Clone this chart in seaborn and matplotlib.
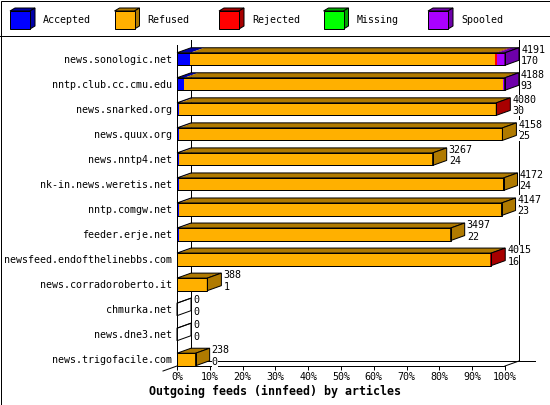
import numpy as np
import pandas as pd
import seaborn as sns
import matplotlib.pyplot as plt
from matplotlib.patches import Polygon, Rectangle
from matplotlib.lines import Line2D

# innfeed outgoing feeds, articles per peer
hosts = ["news.sonologic.net", "nntp.club.cc.cmu.edu", "news.snarked.org",
         "news.quux.org", "news.nntp4.net", "nk-in.news.weretis.net",
         "nntp.comgw.net", "feeder.erje.net", "newsfeed.endofthelinebbs.com",
         "news.corradoroberto.it", "chmurka.net", "news.dne3.net",
         "news.trigofacile.com"]
offered = [4191, 4188, 4080, 4158, 3267, 4172, 4147, 3497, 4015, 388, 0, 0, 238]
accepted = [170, 93, 30, 25, 24, 24, 23, 22, 16, 1, 0, 0, 0]
rejected = [25, 0, 10, 0, 0, 0, 0, 0, 15, 0, 0, 0, 0]
missing = [0, 0, 0, 0, 0, 0, 0, 0, 0, 0, 0, 0, 0]
spooled = [100, 20, 0, 0, 0, 0, 0, 0, 0, 0, 0, 0, 0]
refused = list(np.array(offered) - np.array(accepted) - np.array(rejected)
               - np.array(missing) - np.array(spooled))

segments = ["Accepted", "Refused", "Rejected", "Missing", "Spooled"]
front = {"Accepted": "#0000FF", "Refused": "#FFB000", "Rejected": "#FF0000",
         "Missing": "#00FF00", "Spooled": "#AA00FF"}
dark = {"Accepted": "#0000A8", "Refused": "#B07A00", "Rejected": "#A80000",
        "Missing": "#00A800", "Spooled": "#6E00AA"}

plt.rcParams['font.family'] = ['DejaVu Sans Mono']
FS = 7.2

df = pd.DataFrame({"host": hosts, "Accepted": accepted, "Refused": refused,
                   "Rejected": rejected, "Missing": missing, "Spooled": spooled})
scale = 100.0 / max(offered)
pct = df[segments] * scale
cum = pct.cumsum(axis=1)
for s in segments:
    df["cum_" + s] = cum[s]

W, H = 550, 405
fig = plt.figure(figsize=(W / 100, H / 100), dpi=100)
ax = fig.add_axes([177 / W, 1 - 366 / H, 328 / W, 321 / H])

# stacked front faces, widest first
for s in reversed(segments):
    sns.barplot(data=df, x="cum_" + s, y="host", order=hosts, orient="h",
                color=front[s], saturation=1, width=0.5, errorbar=None,
                linewidth=0, edgecolor="none", ax=ax, zorder=3)

ytop, ybot = -0.56, len(hosts) - 1 + 0.26
ax.set_xlim(0, 100)
ax.set_ylim(ybot, ytop)

# depth of the 3D effect in data units (14 px right, 5 px up)
DX = 14 / (328 / 100)
DY = 5 / (321 / (ybot - ytop))
lw = 0.72

# back walls and floor
kw = dict(color="black", lw=lw, clip_on=False, zorder=1)
ax.add_line(Line2D([DX, DX], [ytop - DY, ybot - DY], **kw))
ax.add_line(Line2D([100 + DX, 100 + DX], [ytop - DY, ybot - DY], **kw))
ax.add_line(Line2D([DX, 109], [ybot - DY, ybot - DY], **kw))
ax.add_line(Line2D([100, 100 + DX], [ybot, ybot - DY], **kw))
ax.add_line(Line2D([-DX, DX], [ybot + DY, ybot - DY], **kw))

for i, h in enumerate(hosts):
    yt, yb = i - 0.25, i + 0.25
    x0 = 0.0
    last = None
    for s in segments:
        x1 = cum.loc[i, s]
        if x1 > x0:
            ax.add_patch(Polygon([(x0, yt), (x1, yt), (x1 + DX, yt - DY), (x0 + DX, yt - DY)],
                                 closed=True, facecolor=dark[s], edgecolor="none",
                                 clip_on=False, zorder=3))
            last = s
        x0 = x1
    T = cum.loc[i, "Spooled"]
    ax.add_patch(Polygon([(0, yt), (T, yt), (T + DX, yt - DY), (DX, yt - DY)], closed=True,
                         fill=False, edgecolor="black", lw=lw, clip_on=False, zorder=4))
    ax.add_patch(Polygon([(T, yt), (T + DX, yt - DY), (T + DX, yb - DY), (T, yb)], closed=True,
                         facecolor=dark[last] if last else "none", edgecolor="black",
                         lw=lw, clip_on=False, zorder=4))
    ax.add_patch(Rectangle((0, yt), T, yb - yt, fill=False, edgecolor="black", lw=lw,
                           clip_on=False, zorder=4))
    lab = dict(xycoords="data", textcoords="offset points", ha="left", va="center",
               fontsize=FS, zorder=6, annotation_clip=False,
               bbox=dict(facecolor="white", edgecolor="none", pad=0))
    ax.annotate(str(offered[i]), (T + DX, i), xytext=(1.5, 6.5), **lab)
    ax.annotate(str(accepted[i]), (T + DX, i), xytext=(1.5, -1.6), **lab)

sns.despine(ax=ax, top=True, right=True)
for sp in ("left", "bottom"):
    ax.spines[sp].set_linewidth(lw)
    ax.spines[sp].set_color("black")
    ax.spines[sp].set_zorder(2)
ax.set_xticks(range(0, 101, 10))
ax.set_xticklabels([f"{v}%" for v in range(0, 101, 10)])
ax.tick_params(axis="x", direction="out", length=3, width=lw, pad=1.5, labelsize=FS)
ax.tick_params(axis="y", length=0, pad=3.6, labelsize=FS)
ax.set_xlabel("")
ax.set_ylabel("")
ax.patch.set_alpha(0)

fig.text(0.5, 1 - 391 / H, "Outgoing feeds (innfeed) by articles", ha="center",
         va="center", fontsize=8.4, fontweight="bold")

# legend band with cube icons
lax = fig.add_axes([0, 1 - 35 / H, 1, 35 / H])
lax.set_xlim(0, W)
lax.set_ylim(35, 0)
lax.axis("off")
for k, s in enumerate(segments):
    x = 10 + k * 104.5
    lax.add_patch(Polygon([(x, 11), (x + 20, 11), (x + 25, 8), (x + 5, 8)], closed=True,
                          facecolor=dark[s], edgecolor="black", lw=lw))
    lax.add_patch(Polygon([(x + 20, 11), (x + 25, 8), (x + 25, 26), (x + 20, 29)], closed=True,
                          facecolor=dark[s], edgecolor="black", lw=lw))
    lax.add_patch(Rectangle((x, 11), 20, 18, facecolor=front[s], edgecolor="black", lw=lw))
    lax.text(x + 33, 20, s, ha="left", va="center", fontsize=FS)

fig.add_artist(Line2D([0, 1], [1 - 35.5 / H, 1 - 35.5 / H], color="black", lw=lw,
                      transform=fig.transFigure))
fig.add_artist(Rectangle((0.5 / W, 0.5 / H), 1 - 1 / W, 1 - 1 / H, fill=False,
                         edgecolor="black", lw=lw, transform=fig.transFigure))

fig.savefig("out.png", dpi=100, facecolor="white")
